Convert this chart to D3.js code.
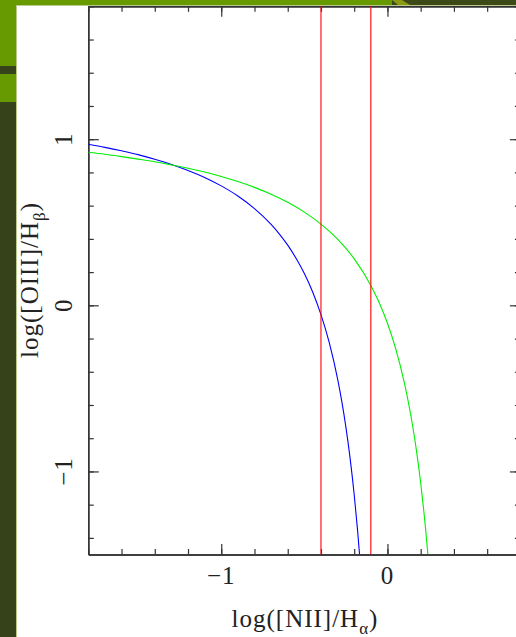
<!DOCTYPE html>
<html><head><meta charset="utf-8">
<script src="https://cdn.jsdelivr.net/npm/d3@7"></script>
<style>html,body{margin:0;padding:0;background:#fff;overflow:hidden}svg{display:block}</style>
</head><body>
<script>
// Data
const xDomain = [-1.8, 0.8];
const yDomain = [-1.5, 1.8];
const xMajorTicks = [-1, 0];
const xTickLabels = ["\u22121", "0"];
const yMajorTicks = [-1, 0, 1];
const yTickLabels = ["\u22121", "0", "1"];
const minorStep = 0.2;
// blue curve (x, y)
const blueX = [-1.8,-1.7,-1.6,-1.5,-1.4,-1.3,-1.2,-1.1,-1.0,-0.9,-0.8,-0.7,-0.65,-0.6,-0.55,-0.5,-0.45,-0.4,-0.35,-0.3,-0.275,-0.25,-0.225,-0.2,-0.18,-0.168];
const blueY = [0.970,0.951,0.930,0.907,0.879,0.848,0.812,0.770,0.719,0.658,0.582,0.487,0.429,0.362,0.283,0.191,0.080,-0.056,-0.225,-0.443,-0.577,-0.733,-0.918,-1.140,-1.352,-1.498];
// green curve (x, y)
const greenX = [-1.8,-1.7,-1.6,-1.5,-1.4,-1.3,-1.2,-1.1,-1.0,-0.9,-0.8,-0.7,-0.6,-0.5,-0.4,-0.3,-0.2,-0.1,-0.05,0.0,0.05,0.1,0.125,0.15,0.175,0.2,0.22,0.23,0.243];
const greenY = [0.921,0.909,0.895,0.880,0.864,0.845,0.825,0.802,0.775,0.745,0.710,0.669,0.620,0.561,0.489,0.398,0.280,0.120,0.017,-0.108,-0.262,-0.459,-0.578,-0.716,-0.878,-1.069,-1.250,-1.352,-1.497];
// vertical red lines
const redX = [-0.4, -0.1];

(function(){
const W = 516, H = 637;
const svg = d3.select("body").append("svg").attr("width", W).attr("height", H);

// slide decoration
const green = "#679a01", dark = "#36421a";
svg.append("rect").attr("x",0).attr("y",0).attr("width",W).attr("height",H).attr("fill","#fff");
svg.append("rect").attr("x",0).attr("y",0).attr("width",392).attr("height",5).attr("fill",green);
svg.append("rect").attr("x",392).attr("y",0).attr("width",W-392).attr("height",5).attr("fill","#3d4a18");
svg.append("path").attr("d","M392,0 L402,0 L410,5 L398,5 Z").attr("fill","#8c9a12");
svg.append("rect").attr("x",0).attr("y",5).attr("width",W).attr("height",1).attr("fill","#b9c98c");
svg.append("rect").attr("x",0).attr("y",0).attr("width",16).attr("height",H).attr("fill",dark);
svg.append("rect").attr("x",0).attr("y",0).attr("width",16).attr("height",66).attr("fill",green);
svg.append("rect").attr("x",0).attr("y",74).attr("width",16).attr("height",28).attr("fill",green);
svg.append("rect").attr("x",16).attr("y",5).attr("width",1).attr("height",H).attr("fill","#b9c98c");

// plot frame
const pLeft = 88.3, pRight = 520.4, pTop = 6.3, pBottom = 554.5;
const x = d3.scaleLinear().domain(xDomain).range([pLeft, pRight]);
const y = d3.scaleLinear().domain(yDomain).range([pBottom, pTop]);

svg.append("clipPath").attr("id","clip").append("rect")
  .attr("x",pLeft).attr("y",pTop).attr("width",pRight-pLeft).attr("height",pBottom-pTop);

const g = svg.append("g");
const axisColor = "#333";
const minorX = d3.range(-1.8, 0.8001, minorStep).map(v => +v.toFixed(2));
const minorY = d3.range(-1.4, 1.8001, minorStep).map(v => +v.toFixed(2));

function styleAxis(sel){
  sel.select(".domain").attr("stroke",axisColor).attr("stroke-width",1.4);
  sel.selectAll(".tick line").attr("stroke",axisColor).attr("stroke-width",1.2);
  sel.selectAll(".tick text").remove();
}
g.append("g").attr("transform",`translate(0,${pBottom})`)
  .call(d3.axisBottom(x).tickValues(minorX).tickSize(-5.5).tickSizeOuter(0)).call(styleAxis);
g.append("g").attr("transform",`translate(0,${pBottom})`)
  .call(d3.axisBottom(x).tickValues(xMajorTicks).tickSize(-10.5).tickSizeOuter(0)).call(styleAxis);
g.append("g").attr("transform",`translate(0,${pTop})`)
  .call(d3.axisTop(x).tickValues(minorX).tickSize(-5.5).tickSizeOuter(0)).call(styleAxis);
g.append("g").attr("transform",`translate(0,${pTop})`)
  .call(d3.axisTop(x).tickValues(xMajorTicks).tickSize(-10.5).tickSizeOuter(0)).call(styleAxis);
g.append("g").attr("transform",`translate(${pLeft},0)`)
  .call(d3.axisLeft(y).tickValues(minorY).tickSize(-5.5).tickSizeOuter(0)).call(styleAxis);
g.append("g").attr("transform",`translate(${pLeft},0)`)
  .call(d3.axisLeft(y).tickValues(yMajorTicks).tickSize(-10.5).tickSizeOuter(0)).call(styleAxis);
g.append("g").attr("transform",`translate(${pRight},0)`)
  .call(d3.axisRight(y).tickValues(minorY).tickSize(-5.5).tickSizeOuter(0)).call(styleAxis);
g.append("g").attr("transform",`translate(${pRight},0)`)
  .call(d3.axisRight(y).tickValues(yMajorTicks).tickSize(-10.5).tickSizeOuter(0)).call(styleAxis);

// tick labels
const font = "'Liberation Serif', 'DejaVu Serif', serif";
xMajorTicks.forEach((v,i) => {
  svg.append("text").attr("x", x(v)).attr("y", 584).attr("text-anchor","middle")
    .attr("font-family",font).attr("font-size",25).attr("letter-spacing",1).attr("fill","#222").text(xTickLabels[i]);
});
yMajorTicks.forEach((v,i) => {
  svg.append("text").attr("transform",`translate(72,${y(v)}) rotate(-90)`).attr("text-anchor","middle")
    .attr("font-family",font).attr("font-size",25).attr("letter-spacing",1).attr("fill","#222").text(yTickLabels[i]);
});

// axis titles
const xt = svg.append("text").attr("x", 305).attr("y", 627).attr("text-anchor","middle")
  .attr("font-family",font).attr("font-size",25).attr("letter-spacing",1).attr("fill","#222");
xt.append("tspan").text("log([NII]/H");
xt.append("tspan").attr("font-size",17).attr("dy",7).text("\u03b1");
xt.append("tspan").attr("dy",-7).text(")");

const yt = svg.append("text").attr("transform","translate(38,280) rotate(-90)").attr("text-anchor","middle")
  .attr("font-family",font).attr("font-size",25).attr("letter-spacing",1).attr("fill","#222");
yt.append("tspan").text("log([OIII]/H");
yt.append("tspan").attr("font-size",17).attr("dy",7).text("\u03b2");
yt.append("tspan").attr("dy",-7).text(")");

// curves
const plot = svg.append("g").attr("clip-path","url(#clip)");
const line = d3.line().x(d => x(d[0])).y(d => y(d[1])).curve(d3.curveMonotoneX);
plot.append("path").datum(blueX.map((v,i)=>[v, blueY[i]]))
  .attr("d", line).attr("fill","none").attr("stroke","#0000ff").attr("stroke-width",1.1);
plot.append("path").datum(greenX.map((v,i)=>[v, greenY[i]]))
  .attr("d", line).attr("fill","none").attr("stroke","#00ee00").attr("stroke-width",1.1);
redX.forEach(v => {
  plot.append("line").attr("x1",x(v)).attr("x2",x(v)).attr("y1",pTop).attr("y2",pBottom)
    .attr("stroke","#ff0000").attr("stroke-width",1.1);
});
})();
</script>
</body></html>
